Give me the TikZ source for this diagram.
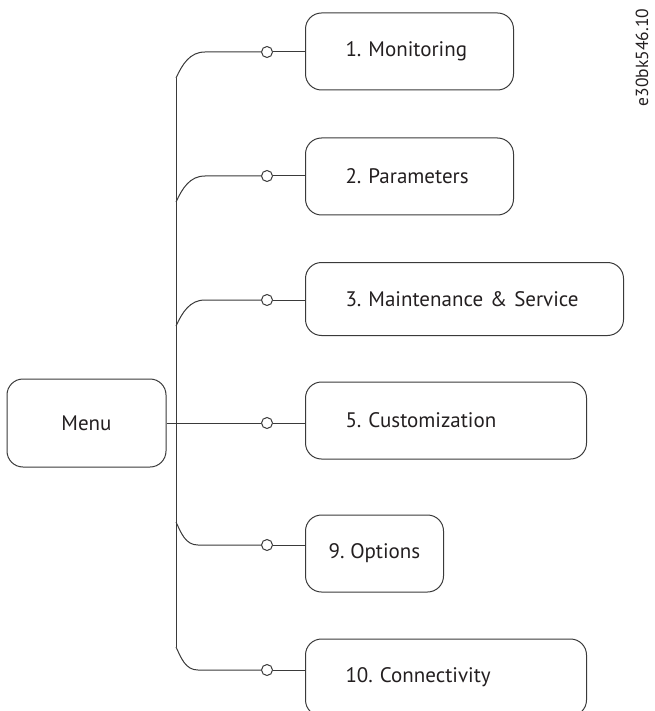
\documentclass[tikz,border=0pt]{standalone}
\usepackage{fontspec}
\setmainfont{PT Sans}
\frenchspacing
\usetikzlibrary{calc}
\definecolor{linegray}{HTML}{3A3A3A}
\definecolor{textblack}{HTML}{231F20}

\begin{document}
\begin{tikzpicture}[x=1pt,y=-1pt,line width=1pt,draw=linegray,
   every node/.style={font=\fontsize{21}{25}\selectfont,text=textblack},
   box/.style={draw,rounded corners=16pt,minimum height=77pt,inner xsep=40pt,
     align=left,anchor=west},
   knob/.style={circle,draw,fill=white,inner sep=0pt,minimum size=11pt}]
  \useasboundingbox (0,0) rectangle (654,711);
  \clip (0,0) rectangle (654,711);
  \node[box,minimum width=159pt,minimum height=88pt,inner xsep=4pt,align=center,anchor=center] (menu) at (86.5,423) {Menu};
  \node[box,text width=128pt] (monitoring) at (305,51.5) {1. Monitoring};
  \node[box,text width=128pt] (parameters) at (305,176.5) {2. Parameters};
  \node[box,text width=238pt,minimum height=73pt] (maintenance) at (305,299) {\rlap{3. Maintenance \& Service}};
  \node[box,text width=201pt] (customization) at (305,420.5) {5. Customization};
  \node[box,minimum width=138pt,inner xsep=4pt,align=center] (options) at (305,553.5) {9. Options};
  \node[box,text width=201pt] (connectivity) at (305,677.5) {10. Connectivity};
  \node[rotate=90,anchor=base,inner sep=0pt,font=\fontsize{17.5}{21}\selectfont] (code) at (648,57.5) {e30bk546.10};
  \coordinate (top) at (176,78);
  \coordinate (bottom) at (176,647);
  \foreach \n/\y in {1/52,2/176,3/300,5/423,9/545,10/670}
    {\node[knob] (k\n) at (267,\y) {};}
  \draw (top) -- (bottom);
  \draw (menu) -- (k5);
  \foreach \n in {1,2,3}
    {\draw ($(k\n -| top)+(0,26)$) to[out=65,in=180] ($(k\n -| top)+(29,0)$) -- (k\n);}
  \foreach \n in {9,10}
    {\draw ($(k\n -| top)+(0,-23)$) to[out=-65,in=180] ($(k\n -| top)+(22,0)$) -- (k\n);}
  \foreach \n/\b in {1/monitoring,2/parameters,3/maintenance,5/customization,9/options,10/connectivity}
    {\draw (k\n) -- (k\n -| \b.west);}
\end{tikzpicture}
\end{document}
